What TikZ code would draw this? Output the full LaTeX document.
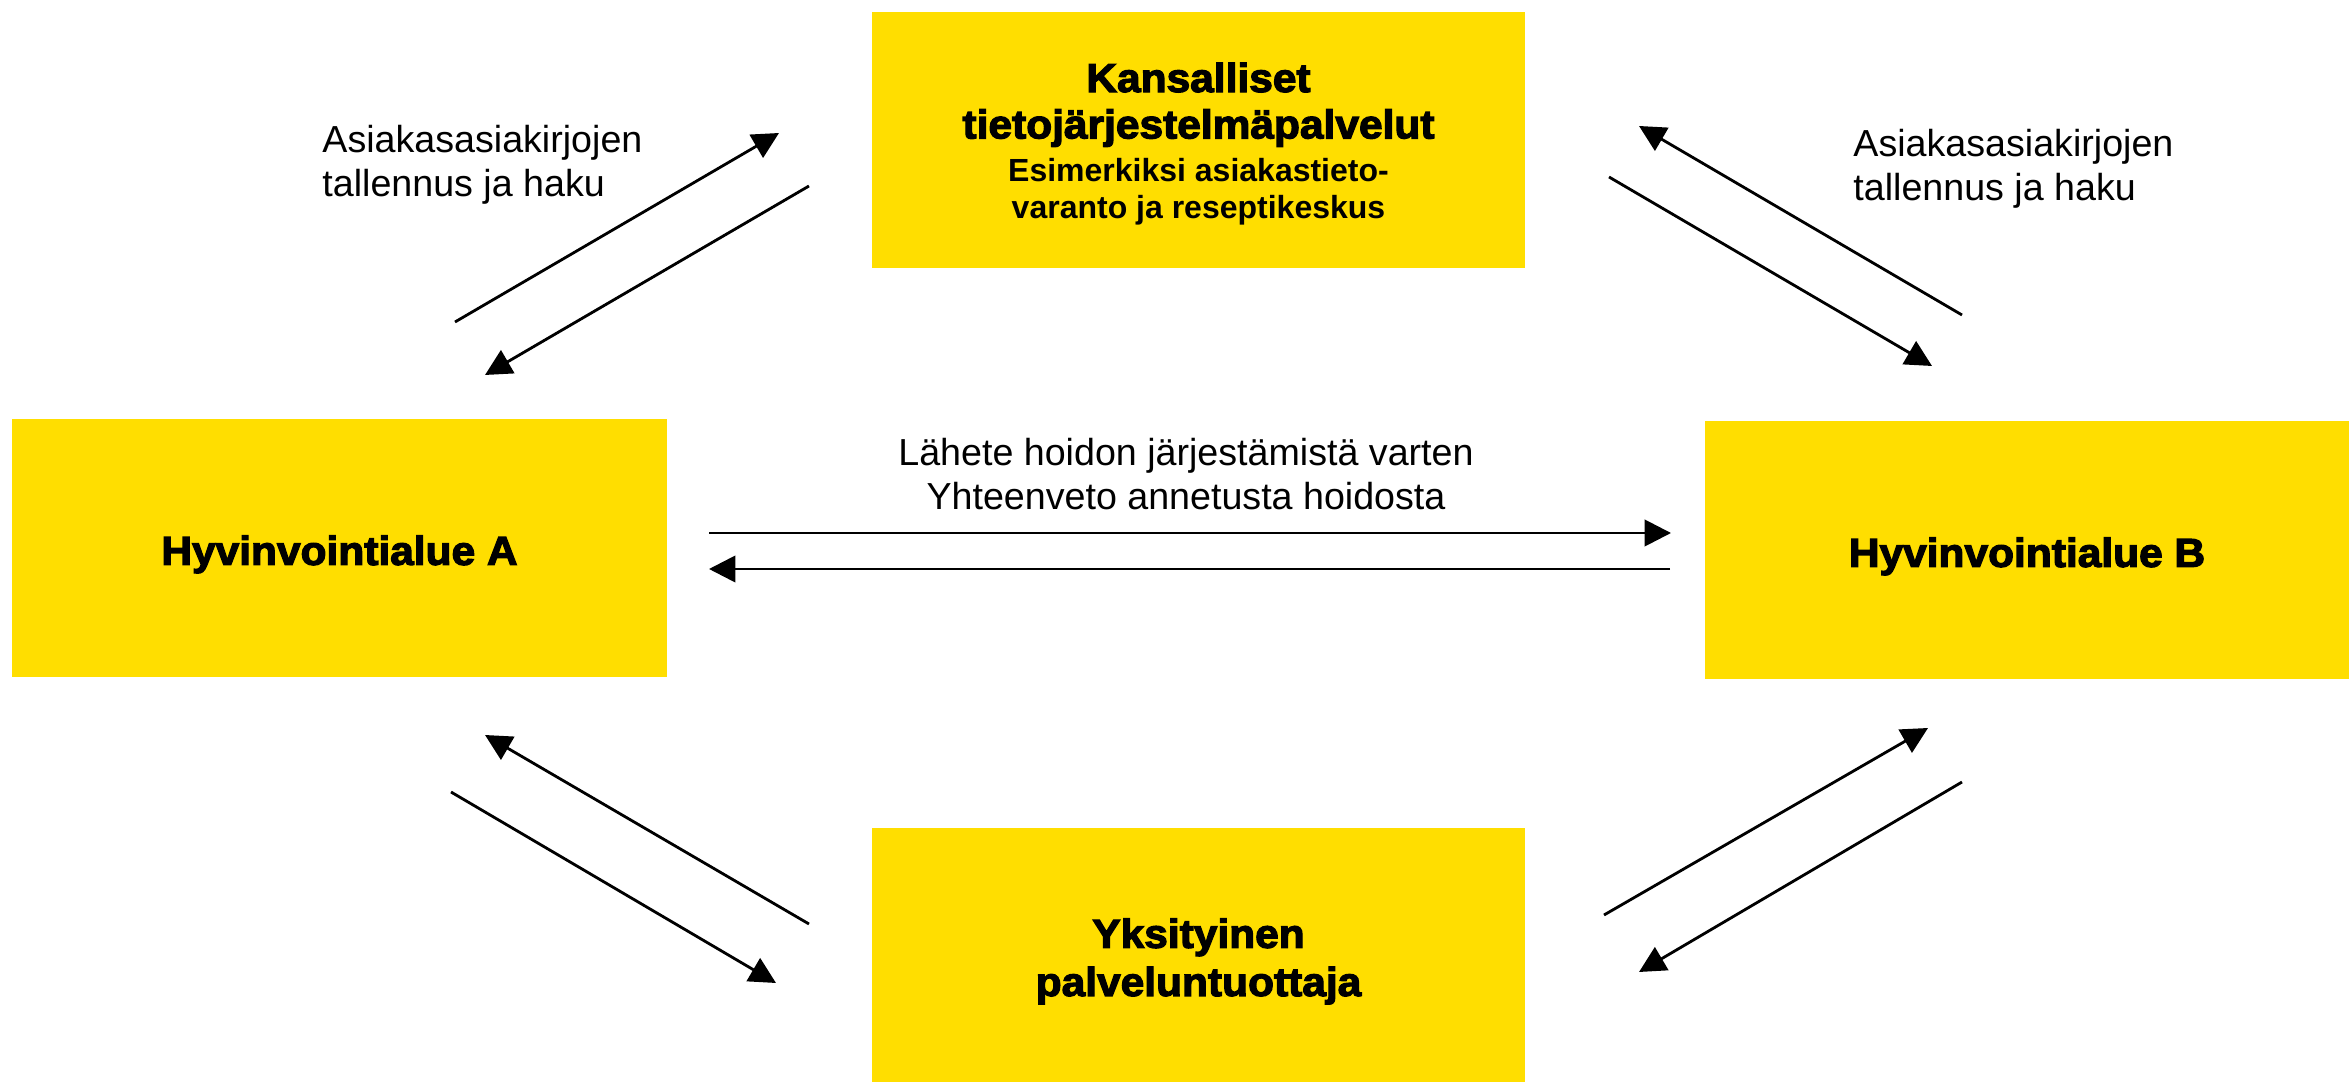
\documentclass[tikz,border=0pt]{standalone}
\usepackage{fontspec}
\setmainfont{Liberation Sans}
\newfontfamily\heavyfont[BoldFeatures={FakeBold=3,FakeStretch=1.05}]{Liberation Sans}
\newcommand\smallbold{\normalfont\bfseries\fontsize{9.1}{10.7}\selectfont}
\usetikzlibrary{arrows.meta}
\definecolor{areayellow}{RGB}{255,222,0}

\begin{document}
\begin{tikzpicture}[x=0.01cm, y=-0.01cm,
		box/.style = {shape=rectangle, fill=areayellow, align=center, inner sep=0pt,
				minimum width=6.53cm, minimum height=2.56cm,
				font=\heavyfont\bfseries\fontsize{11.5}{13.2}\selectfont},
		note/.style = {align=left, font=\fontsize{10.7}{12.4}\selectfont},
		flow/.style = {-{Triangle[length=7.5pt,width=7.5pt]}, line width=0.8pt}]
	\useasboundingbox (0,0) rectangle (2349,1083);

	% the four parties
	\node[box] (natl) at (1198.5,140) {\rule{0pt}{10.7pt}Kansalliset\\tietojärjestelmäpalvelut\\[-1pt]
		\smallbold Esimerkiksi asiakastieto-\\[-2.5pt] \smallbold varanto ja reseptikeskus};
	\node[box, minimum width=6.55cm, minimum height=2.58cm, text height=12pt, text depth=2.4pt] (areaA) at (339.5,548) {Hyvinvointialue A};
	\node[box, minimum width=6.44cm, minimum height=2.58cm, text height=12pt, text depth=2.4pt] (areaB) at (2027,550) {Hyvinvointialue B};
	\node[box, minimum height=2.54cm] (priv) at (1198.5,955) {\rule{0pt}{12pt}Yksityinen\\[0.5pt]palveluntuottaja};

	% texts
	\node[note, anchor=west] (noteL) at (310,165) {Asiakasasiakirjojen\\tallennus ja haku};
	\node[note, anchor=west] (noteR) at (1841,169) {Asiakasasiakirjojen\\tallennus ja haku};
	\node[note, align=center] (noteM) at (1186,474) {Lähete hoidon järjestämistä varten\\Yhteenveto annetusta hoidosta};

	% arrow ends
	\coordinate (tl1a) at (455,322);  \coordinate (tl1b) at (779,133);
	\coordinate (tl2a) at (809,186);  \coordinate (tl2b) at (485,375);
	\coordinate (tr1a) at (1962,315); \coordinate (tr1b) at (1639,126);
	\coordinate (tr2a) at (1609,177); \coordinate (tr2b) at (1932,366);
	\coordinate (m1a) at (709,533);   \coordinate (m1b) at (1671,533);
	\coordinate (m2a) at (1670,569);  \coordinate (m2b) at (709,569);
	\coordinate (bl1a) at (809,924);  \coordinate (bl1b) at (485,735);
	\coordinate (bl2a) at (451,792);  \coordinate (bl2b) at (776,983);
	\coordinate (br1a) at (1604,915); \coordinate (br1b) at (1928,728);
	\coordinate (br2a) at (1962,782); \coordinate (br2b) at (1639,972);

	\foreach \s/\e in {tl1a/tl1b, tl2a/tl2b, tr1a/tr1b, tr2a/tr2b, m1a/m1b,
			m2a/m2b, bl1a/bl1b, bl2a/bl2b, br1a/br1b, br2a/br2b}
		\draw[flow] (\s) -- (\e);
\end{tikzpicture}
\end{document}
